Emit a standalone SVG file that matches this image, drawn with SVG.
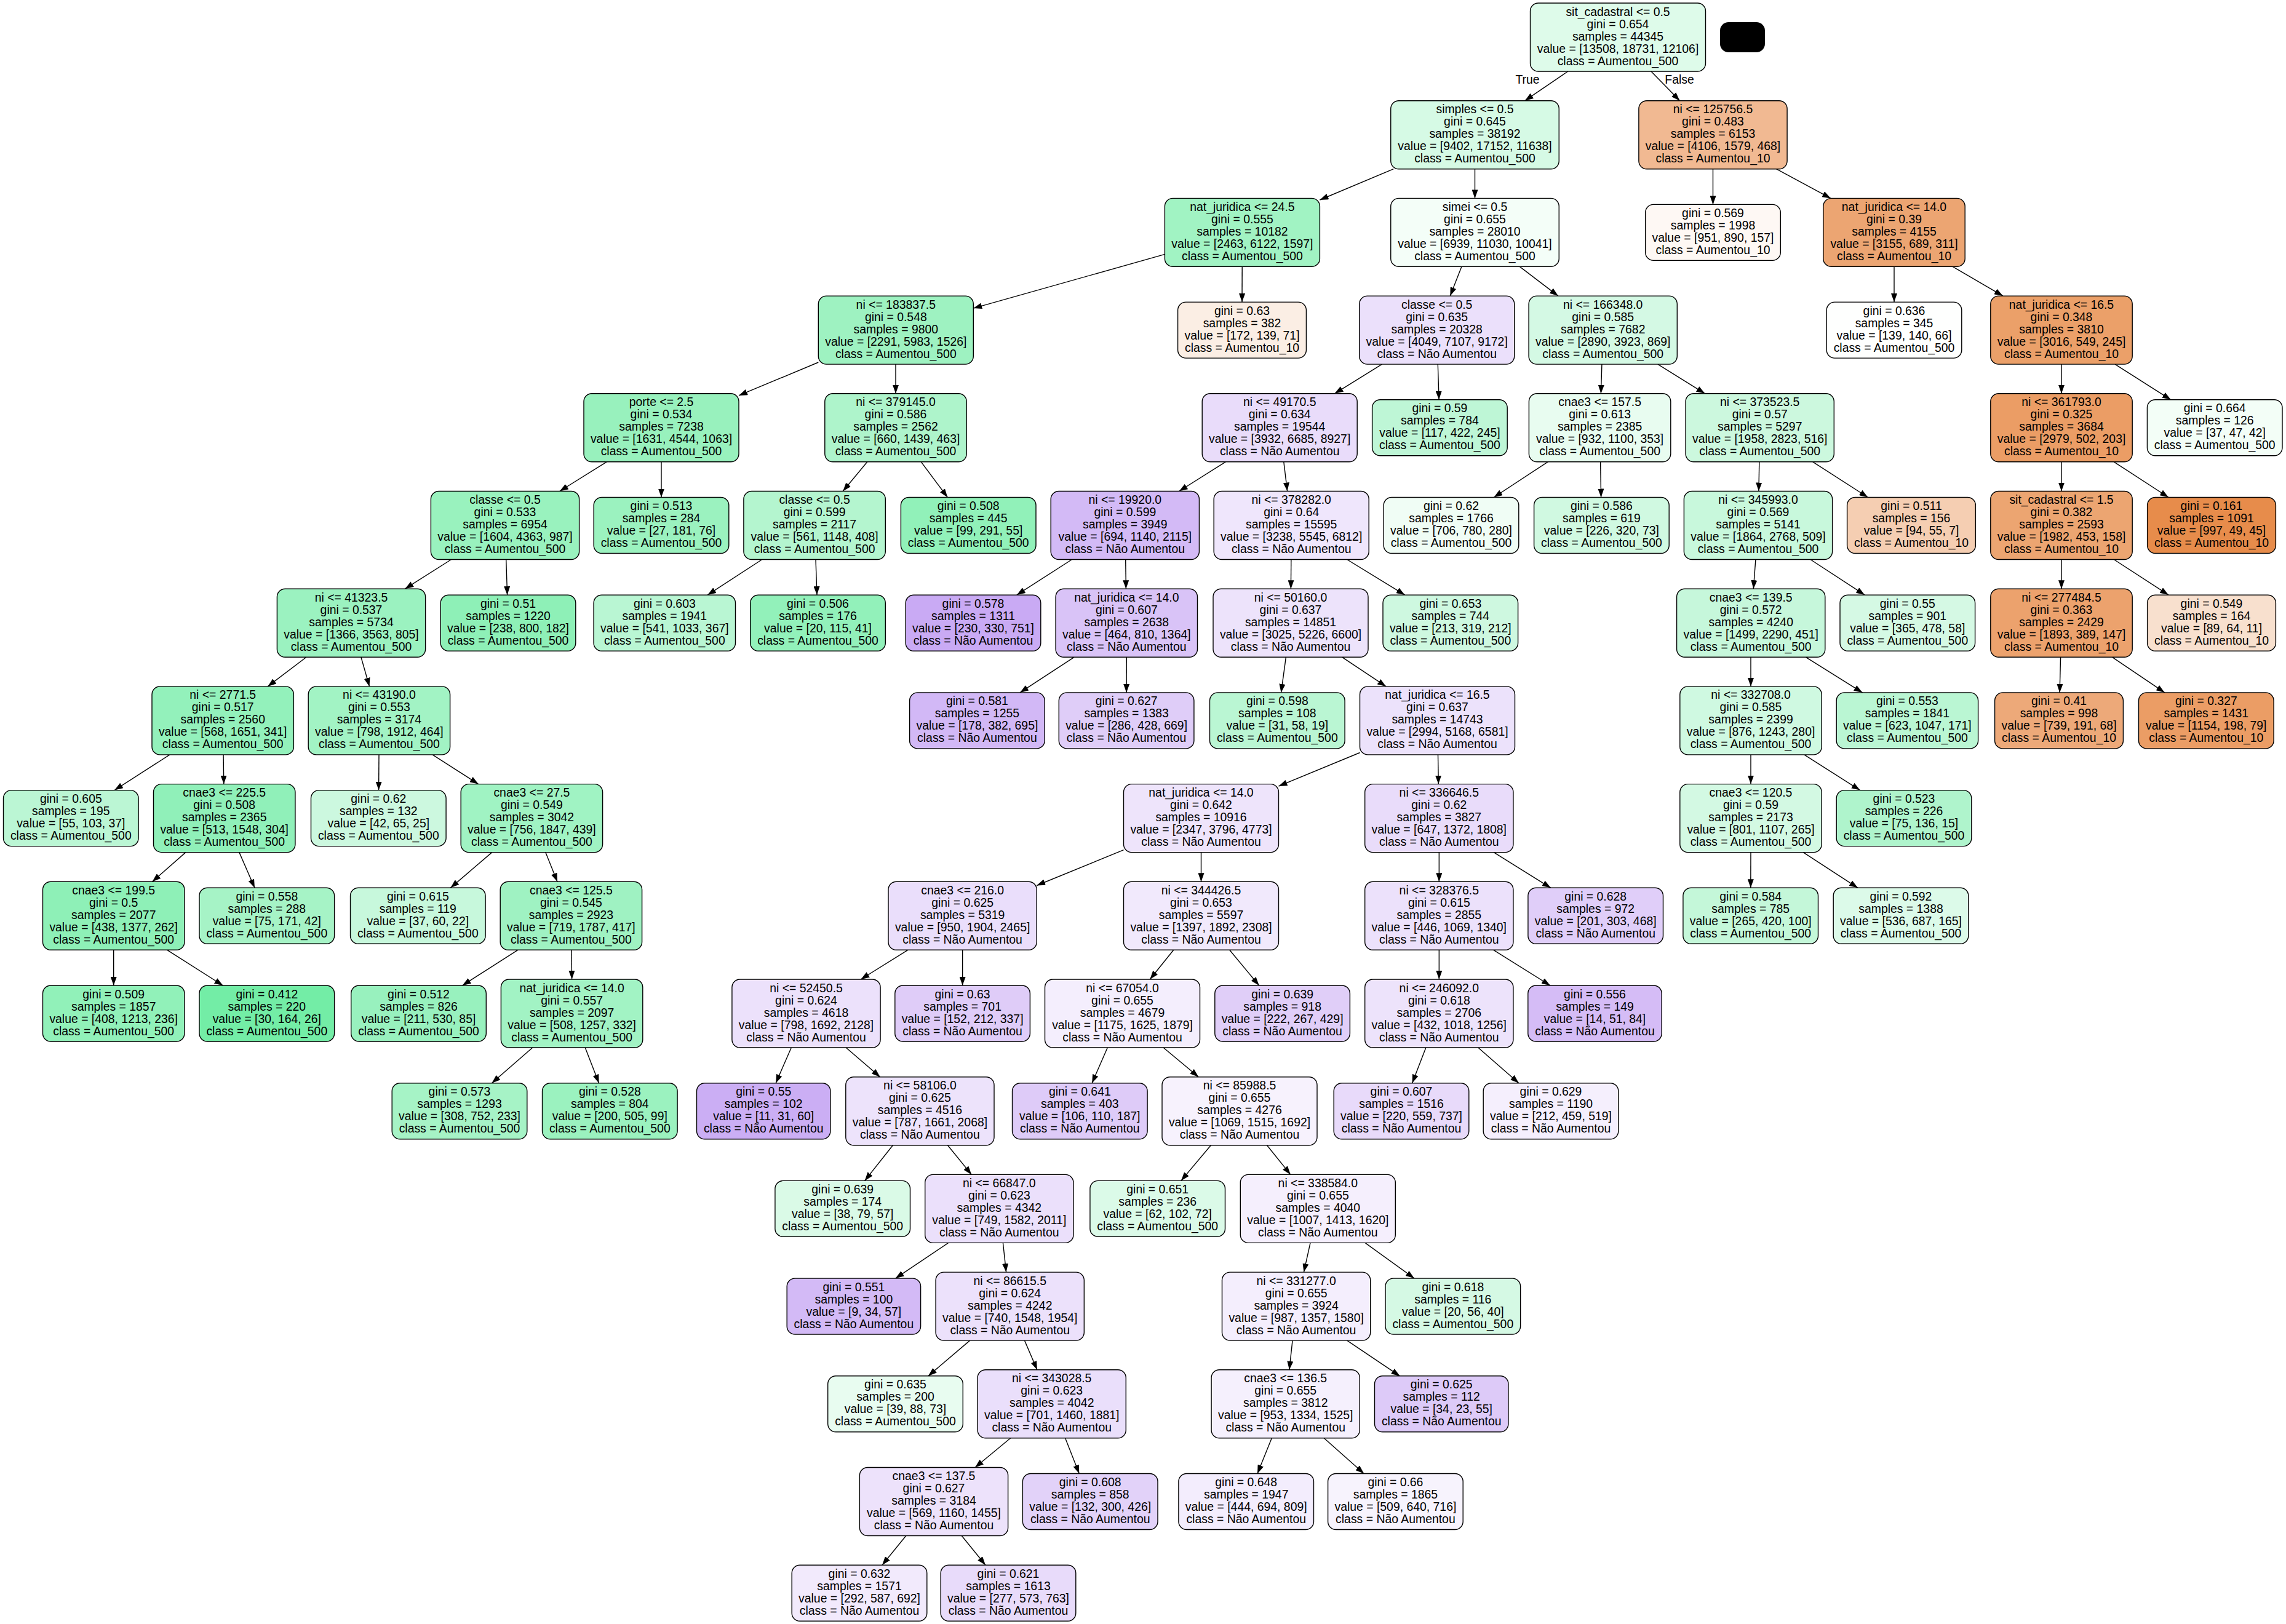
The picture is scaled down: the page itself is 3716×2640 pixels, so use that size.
<svg xmlns="http://www.w3.org/2000/svg" width="3716" height="2640" viewBox="0 0 3716 2640">
<style>
.nd rect{stroke:#000;stroke-width:1.4}
.nd text,.lbl{font-family:"Liberation Sans",Arial,Helvetica,sans-serif;font-size:19.4px;text-anchor:middle;fill:#000}
.ed line{stroke:#000;stroke-width:1.4;fill:none}
</style>
<defs>
<marker id="ah" markerUnits="userSpaceOnUse" markerWidth="14" markerHeight="10" refX="14" refY="5" orient="auto"><path d="M0,0 L14,5 L0,10 z" fill="#000"/></marker>
</defs>
<rect x="0" y="0" width="3716" height="2640" fill="#fff"/>
<g id="connectors" class="ed" marker-end="url(#ah)">
<line x1="2548.7" y1="116" x2="2478.8" y2="163.7" marker-end="url(#ah)"/>
<line x1="2684" y1="116" x2="2730.5" y2="163.7" marker-end="url(#ah)"/>
<line x1="2265.3" y1="274.7" x2="2145.4" y2="325" marker-end="url(#ah)"/>
<line x1="2397.5" y1="274.7" x2="2397.5" y2="322.4" marker-end="url(#ah)"/>
<line x1="2784.5" y1="274.7" x2="2784.5" y2="332.4" marker-end="url(#ah)"/>
<line x1="2887.5" y1="274.7" x2="2976" y2="322.4" marker-end="url(#ah)"/>
<line x1="1893.4" y1="413.4" x2="1582.3" y2="501.1" marker-end="url(#ah)"/>
<line x1="2019.2" y1="433.4" x2="2019" y2="491.1" marker-end="url(#ah)"/>
<line x1="2375.9" y1="433.4" x2="2357.3" y2="481.1" marker-end="url(#ah)"/>
<line x1="2470.3" y1="433.4" x2="2532.9" y2="481.1" marker-end="url(#ah)"/>
<line x1="3079" y1="433.4" x2="3079" y2="491.1" marker-end="url(#ah)"/>
<line x1="3174.1" y1="433.4" x2="3255.9" y2="481.1" marker-end="url(#ah)"/>
<line x1="1330.3" y1="589" x2="1201" y2="642.9" marker-end="url(#ah)"/>
<line x1="1456" y1="592.1" x2="1456" y2="639.8" marker-end="url(#ah)"/>
<line x1="2246.4" y1="592.1" x2="2169.5" y2="639.8" marker-end="url(#ah)"/>
<line x1="2337.3" y1="592.1" x2="2339.1" y2="649.8" marker-end="url(#ah)"/>
<line x1="2603.9" y1="592.1" x2="2602.4" y2="639.8" marker-end="url(#ah)"/>
<line x1="2694.9" y1="592.1" x2="2771.5" y2="639.8" marker-end="url(#ah)"/>
<line x1="3351" y1="592.1" x2="3351" y2="639.8" marker-end="url(#ah)"/>
<line x1="3438.1" y1="592.1" x2="3528.8" y2="649.8" marker-end="url(#ah)"/>
<line x1="986.2" y1="750.8" x2="909.8" y2="798.5" marker-end="url(#ah)"/>
<line x1="1075" y1="750.8" x2="1075" y2="808.5" marker-end="url(#ah)"/>
<line x1="1409.8" y1="750.8" x2="1370.2" y2="798.5" marker-end="url(#ah)"/>
<line x1="1497.3" y1="750.8" x2="1540.3" y2="808.5" marker-end="url(#ah)"/>
<line x1="1992.3" y1="750.8" x2="1916.7" y2="798.5" marker-end="url(#ah)"/>
<line x1="2086.8" y1="750.8" x2="2092.6" y2="798.5" marker-end="url(#ah)"/>
<line x1="2516.1" y1="750.8" x2="2428.3" y2="808.5" marker-end="url(#ah)"/>
<line x1="2601.6" y1="750.8" x2="2602.6" y2="808.5" marker-end="url(#ah)"/>
<line x1="2859.8" y1="750.8" x2="2858.9" y2="798.5" marker-end="url(#ah)"/>
<line x1="2946.8" y1="750.8" x2="3036.4" y2="808.5" marker-end="url(#ah)"/>
<line x1="3351" y1="750.8" x2="3351" y2="798.5" marker-end="url(#ah)"/>
<line x1="3436.3" y1="750.8" x2="3525" y2="808.5" marker-end="url(#ah)"/>
<line x1="733.6" y1="909.5" x2="658.4" y2="957.2" marker-end="url(#ah)"/>
<line x1="822.7" y1="909.5" x2="824.6" y2="967.2" marker-end="url(#ah)"/>
<line x1="1238.8" y1="909.5" x2="1150.2" y2="967.2" marker-end="url(#ah)"/>
<line x1="1326" y1="909.5" x2="1328" y2="967.2" marker-end="url(#ah)"/>
<line x1="1742.5" y1="909.5" x2="1652.8" y2="967.2" marker-end="url(#ah)"/>
<line x1="1829.7" y1="909.5" x2="1830.4" y2="957.2" marker-end="url(#ah)"/>
<line x1="2098.8" y1="909.5" x2="2098.4" y2="957.2" marker-end="url(#ah)"/>
<line x1="2189.6" y1="909.5" x2="2283.7" y2="967.2" marker-end="url(#ah)"/>
<line x1="2853.9" y1="909.5" x2="2850.3" y2="957.2" marker-end="url(#ah)"/>
<line x1="2942.9" y1="909.5" x2="3031.2" y2="967.2" marker-end="url(#ah)"/>
<line x1="3351" y1="909.5" x2="3351" y2="957.2" marker-end="url(#ah)"/>
<line x1="3436.3" y1="909.5" x2="3525" y2="967.2" marker-end="url(#ah)"/>
<line x1="498" y1="1068.2" x2="435.2" y2="1115.9" marker-end="url(#ah)"/>
<line x1="586.9" y1="1068.2" x2="600.5" y2="1115.9" marker-end="url(#ah)"/>
<line x1="1746.4" y1="1068.2" x2="1658" y2="1125.9" marker-end="url(#ah)"/>
<line x1="1831.3" y1="1068.2" x2="1831.1" y2="1125.9" marker-end="url(#ah)"/>
<line x1="2090.4" y1="1068.2" x2="2082.5" y2="1125.9" marker-end="url(#ah)"/>
<line x1="2181.4" y1="1068.2" x2="2253.1" y2="1115.9" marker-end="url(#ah)"/>
<line x1="2846" y1="1068.2" x2="2846" y2="1115.9" marker-end="url(#ah)"/>
<line x1="2935.1" y1="1068.2" x2="3027.5" y2="1125.9" marker-end="url(#ah)"/>
<line x1="3349.6" y1="1068.2" x2="3348.1" y2="1125.9" marker-end="url(#ah)"/>
<line x1="3433.3" y1="1068.2" x2="3518.8" y2="1125.9" marker-end="url(#ah)"/>
<line x1="275.9" y1="1226.9" x2="186.1" y2="1284.6" marker-end="url(#ah)"/>
<line x1="363.1" y1="1226.9" x2="363.8" y2="1274.6" marker-end="url(#ah)"/>
<line x1="616" y1="1226.9" x2="615.6" y2="1284.6" marker-end="url(#ah)"/>
<line x1="703.1" y1="1226.9" x2="777.7" y2="1274.6" marker-end="url(#ah)"/>
<line x1="2210.5" y1="1223.5" x2="2078.5" y2="1278" marker-end="url(#ah)"/>
<line x1="2337.5" y1="1226.9" x2="2338.3" y2="1274.6" marker-end="url(#ah)"/>
<line x1="2846" y1="1226.9" x2="2846" y2="1274.6" marker-end="url(#ah)"/>
<line x1="2932.9" y1="1226.9" x2="3023.6" y2="1284.6" marker-end="url(#ah)"/>
<line x1="301.8" y1="1385.6" x2="247.6" y2="1433.3" marker-end="url(#ah)"/>
<line x1="388.9" y1="1385.6" x2="414" y2="1443.3" marker-end="url(#ah)"/>
<line x1="799.7" y1="1385.6" x2="732.4" y2="1443.3" marker-end="url(#ah)"/>
<line x1="886.8" y1="1385.6" x2="906" y2="1433.3" marker-end="url(#ah)"/>
<line x1="1826.5" y1="1381.6" x2="1685.2" y2="1439.5" marker-end="url(#ah)"/>
<line x1="1952.5" y1="1385.6" x2="1952.5" y2="1433.3" marker-end="url(#ah)"/>
<line x1="2339.3" y1="1385.6" x2="2339.3" y2="1433.3" marker-end="url(#ah)"/>
<line x1="2428.3" y1="1385.6" x2="2520.8" y2="1443.3" marker-end="url(#ah)"/>
<line x1="2846" y1="1385.6" x2="2845.8" y2="1443.3" marker-end="url(#ah)"/>
<line x1="2931.3" y1="1385.6" x2="3020" y2="1443.3" marker-end="url(#ah)"/>
<line x1="184.7" y1="1544.3" x2="184.7" y2="1602" marker-end="url(#ah)"/>
<line x1="271.8" y1="1544.3" x2="362.4" y2="1602" marker-end="url(#ah)"/>
<line x1="841.7" y1="1544.3" x2="751.6" y2="1602" marker-end="url(#ah)"/>
<line x1="929" y1="1544.3" x2="929.6" y2="1592" marker-end="url(#ah)"/>
<line x1="1475.7" y1="1544.3" x2="1399.4" y2="1592" marker-end="url(#ah)"/>
<line x1="1564.6" y1="1544.3" x2="1564.6" y2="1602" marker-end="url(#ah)"/>
<line x1="1907.7" y1="1544.3" x2="1869.3" y2="1592" marker-end="url(#ah)"/>
<line x1="1998.7" y1="1544.3" x2="2046.7" y2="1602" marker-end="url(#ah)"/>
<line x1="2339.3" y1="1544.3" x2="2339.3" y2="1592" marker-end="url(#ah)"/>
<line x1="2427.8" y1="1544.3" x2="2519.9" y2="1602" marker-end="url(#ah)"/>
<line x1="865.7" y1="1703" x2="799.4" y2="1760.7" marker-end="url(#ah)"/>
<line x1="951.2" y1="1703" x2="973.6" y2="1760.7" marker-end="url(#ah)"/>
<line x1="1286.3" y1="1703" x2="1261.1" y2="1760.7" marker-end="url(#ah)"/>
<line x1="1375.2" y1="1703" x2="1430.7" y2="1750.7" marker-end="url(#ah)"/>
<line x1="1800.3" y1="1703" x2="1775.1" y2="1760.7" marker-end="url(#ah)"/>
<line x1="1891.1" y1="1703" x2="1948.4" y2="1750.7" marker-end="url(#ah)"/>
<line x1="2317.9" y1="1703" x2="2295.6" y2="1760.7" marker-end="url(#ah)"/>
<line x1="2402.8" y1="1703" x2="2468.9" y2="1760.7" marker-end="url(#ah)"/>
<line x1="1451.4" y1="1861.7" x2="1405.7" y2="1919.4" marker-end="url(#ah)"/>
<line x1="1540.5" y1="1861.7" x2="1579.2" y2="1909.4" marker-end="url(#ah)"/>
<line x1="1968.4" y1="1861.7" x2="1919.9" y2="1919.4" marker-end="url(#ah)"/>
<line x1="2059.5" y1="1861.7" x2="2097.8" y2="1909.4" marker-end="url(#ah)"/>
<line x1="1541.6" y1="2020.4" x2="1455.7" y2="2078.1" marker-end="url(#ah)"/>
<line x1="1630.4" y1="2020.4" x2="1635.6" y2="2068.1" marker-end="url(#ah)"/>
<line x1="2130" y1="2020.4" x2="2119.4" y2="2068.1" marker-end="url(#ah)"/>
<line x1="2219.1" y1="2020.4" x2="2298.9" y2="2078.1" marker-end="url(#ah)"/>
<line x1="1576.6" y1="2179.1" x2="1508.9" y2="2236.8" marker-end="url(#ah)"/>
<line x1="1665.5" y1="2179.1" x2="1685.9" y2="2226.8" marker-end="url(#ah)"/>
<line x1="2101" y1="2179.1" x2="2095.8" y2="2226.8" marker-end="url(#ah)"/>
<line x1="2189.7" y1="2179.1" x2="2275.5" y2="2236.8" marker-end="url(#ah)"/>
<line x1="1642.7" y1="2337.8" x2="1585" y2="2385.5" marker-end="url(#ah)"/>
<line x1="1731.6" y1="2337.8" x2="1754.3" y2="2395.5" marker-end="url(#ah)"/>
<line x1="2067.3" y1="2337.8" x2="2044" y2="2395.5" marker-end="url(#ah)"/>
<line x1="2152.2" y1="2337.8" x2="2217.2" y2="2395.5" marker-end="url(#ah)"/>
<line x1="1472.8" y1="2496.5" x2="1434" y2="2544.2" marker-end="url(#ah)"/>
<line x1="1563.2" y1="2496.5" x2="1602" y2="2544.2" marker-end="url(#ah)"/>
<text class="lbl" x="2483" y="136">True</text>
<text class="lbl" x="2730" y="136">False</text>
</g>
<g id="legend"><rect x="2796" y="36" width="73" height="49" rx="14" fill="#000"/></g>
<g id="n0" class="nd" transform="translate(2630,60.5)"><rect x="-142.5" y="-55.5" width="285" height="111" rx="13" fill="#defbea"/><text><tspan x="0" y="-35">sit_cadastral &lt;= 0.5</tspan><tspan x="0" y="-15">gini = 0.654</tspan><tspan x="0" y="5">samples = 44345</tspan><tspan x="0" y="25">value = [13508, 18731, 12106]</tspan><tspan x="0" y="45">class = Aumentou_500</tspan></text></g>
<g id="n1" class="nd" transform="translate(2397.5,219.2)"><rect x="-136.75" y="-55.5" width="273.5" height="111" rx="13" fill="#d6fae5"/><text><tspan x="0" y="-35">simples &lt;= 0.5</tspan><tspan x="0" y="-15">gini = 0.645</tspan><tspan x="0" y="5">samples = 38192</tspan><tspan x="0" y="25">value = [9402, 17152, 11638]</tspan><tspan x="0" y="45">class = Aumentou_500</tspan></text></g>
<g id="n2" class="nd" transform="translate(2784.5,219.2)"><rect x="-120.6" y="-55.5" width="241.2" height="111" rx="13" fill="#f1b992"/><text><tspan x="0" y="-35">ni &lt;= 125756.5</tspan><tspan x="0" y="-15">gini = 0.483</tspan><tspan x="0" y="5">samples = 6153</tspan><tspan x="0" y="25">value = [4106, 1579, 468]</tspan><tspan x="0" y="45">class = Aumentou_10</tspan></text></g>
<g id="n3" class="nd" transform="translate(2019.4,377.9)"><rect x="-126" y="-55.5" width="252" height="111" rx="13" fill="#a1f3c3"/><text><tspan x="0" y="-35">nat_juridica &lt;= 24.5</tspan><tspan x="0" y="-15">gini = 0.555</tspan><tspan x="0" y="5">samples = 10182</tspan><tspan x="0" y="25">value = [2463, 6122, 1597]</tspan><tspan x="0" y="45">class = Aumentou_500</tspan></text></g>
<g id="n4" class="nd" transform="translate(2397.5,377.9)"><rect x="-136.75" y="-55.5" width="273.5" height="111" rx="13" fill="#f4fef8"/><text><tspan x="0" y="-35">simei &lt;= 0.5</tspan><tspan x="0" y="-15">gini = 0.655</tspan><tspan x="0" y="5">samples = 28010</tspan><tspan x="0" y="25">value = [6939, 11030, 10041]</tspan><tspan x="0" y="45">class = Aumentou_500</tspan></text></g>
<g id="n5" class="nd" transform="translate(2784.5,377.9)"><rect x="-109.8" y="-45.5" width="219.6" height="91" rx="13" fill="#fef8f4"/><text><tspan x="0" y="-25">gini = 0.569</tspan><tspan x="0" y="-5">samples = 1998</tspan><tspan x="0" y="15">value = [951, 890, 157]</tspan><tspan x="0" y="35">class = Aumentou_10</tspan></text></g>
<g id="n6" class="nd" transform="translate(3079,377.9)"><rect x="-115.2" y="-55.5" width="230.4" height="111" rx="13" fill="#eca572"/><text><tspan x="0" y="-35">nat_juridica &lt;= 14.0</tspan><tspan x="0" y="-15">gini = 0.39</tspan><tspan x="0" y="5">samples = 4155</tspan><tspan x="0" y="25">value = [3155, 689, 311]</tspan><tspan x="0" y="45">class = Aumentou_10</tspan></text></g>
<g id="n7" class="nd" transform="translate(1456.3,536.6)"><rect x="-126" y="-55.5" width="252" height="111" rx="13" fill="#9ef2c1"/><text><tspan x="0" y="-35">ni &lt;= 183837.5</tspan><tspan x="0" y="-15">gini = 0.548</tspan><tspan x="0" y="5">samples = 9800</tspan><tspan x="0" y="25">value = [2291, 5983, 1526]</tspan><tspan x="0" y="45">class = Aumentou_500</tspan></text></g>
<g id="n8" class="nd" transform="translate(2019,536.6)"><rect x="-104.4" y="-45.5" width="208.8" height="91" rx="13" fill="#fbeee4"/><text><tspan x="0" y="-25">gini = 0.63</tspan><tspan x="0" y="-5">samples = 382</tspan><tspan x="0" y="15">value = [172, 139, 71]</tspan><tspan x="0" y="35">class = Aumentou_10</tspan></text></g>
<g id="n9" class="nd" transform="translate(2335.7,536.6)"><rect x="-126" y="-55.5" width="252" height="111" rx="13" fill="#ebe0fb"/><text><tspan x="0" y="-35">classe &lt;= 0.5</tspan><tspan x="0" y="-15">gini = 0.635</tspan><tspan x="0" y="5">samples = 20328</tspan><tspan x="0" y="25">value = [4049, 7107, 9172]</tspan><tspan x="0" y="45">class = Não Aumentou</tspan></text></g>
<g id="n10" class="nd" transform="translate(2605.7,536.6)"><rect x="-120.6" y="-55.5" width="241.2" height="111" rx="13" fill="#d4f9e4"/><text><tspan x="0" y="-35">ni &lt;= 166348.0</tspan><tspan x="0" y="-15">gini = 0.585</tspan><tspan x="0" y="5">samples = 7682</tspan><tspan x="0" y="25">value = [2890, 3923, 869]</tspan><tspan x="0" y="45">class = Aumentou_500</tspan></text></g>
<g id="n11" class="nd" transform="translate(3079,536.6)"><rect x="-109.8" y="-45.5" width="219.6" height="91" rx="13" fill="#fefffe"/><text><tspan x="0" y="-25">gini = 0.636</tspan><tspan x="0" y="-5">samples = 345</tspan><tspan x="0" y="15">value = [139, 140, 66]</tspan><tspan x="0" y="35">class = Aumentou_500</tspan></text></g>
<g id="n12" class="nd" transform="translate(3351,536.6)"><rect x="-115.2" y="-55.5" width="230.4" height="111" rx="13" fill="#eba069"/><text><tspan x="0" y="-35">nat_juridica &lt;= 16.5</tspan><tspan x="0" y="-15">gini = 0.348</tspan><tspan x="0" y="5">samples = 3810</tspan><tspan x="0" y="25">value = [3016, 549, 245]</tspan><tspan x="0" y="45">class = Aumentou_10</tspan></text></g>
<g id="n13" class="nd" transform="translate(1075,695.3)"><rect x="-126" y="-55.5" width="252" height="111" rx="13" fill="#98f1bd"/><text><tspan x="0" y="-35">porte &lt;= 2.5</tspan><tspan x="0" y="-15">gini = 0.534</tspan><tspan x="0" y="5">samples = 7238</tspan><tspan x="0" y="25">value = [1631, 4544, 1063]</tspan><tspan x="0" y="45">class = Aumentou_500</tspan></text></g>
<g id="n14" class="nd" transform="translate(1456,695.3)"><rect x="-115.2" y="-55.5" width="230.4" height="111" rx="13" fill="#aef4cb"/><text><tspan x="0" y="-35">ni &lt;= 379145.0</tspan><tspan x="0" y="-15">gini = 0.586</tspan><tspan x="0" y="5">samples = 2562</tspan><tspan x="0" y="25">value = [660, 1439, 463]</tspan><tspan x="0" y="45">class = Aumentou_500</tspan></text></g>
<g id="n15" class="nd" transform="translate(2080.2,695.3)"><rect x="-126" y="-55.5" width="252" height="111" rx="13" fill="#e9dcfa"/><text><tspan x="0" y="-35">ni &lt;= 49170.5</tspan><tspan x="0" y="-15">gini = 0.634</tspan><tspan x="0" y="5">samples = 19544</tspan><tspan x="0" y="25">value = [3932, 6685, 8927]</tspan><tspan x="0" y="45">class = Não Aumentou</tspan></text></g>
<g id="n16" class="nd" transform="translate(2340.4,695.3)"><rect x="-109.8" y="-45.5" width="219.6" height="91" rx="13" fill="#bef6d6"/><text><tspan x="0" y="-25">gini = 0.59</tspan><tspan x="0" y="-5">samples = 784</tspan><tspan x="0" y="15">value = [117, 422, 245]</tspan><tspan x="0" y="35">class = Aumentou_500</tspan></text></g>
<g id="n17" class="nd" transform="translate(2600.6,695.3)"><rect x="-115.2" y="-55.5" width="230.4" height="111" rx="13" fill="#e8fcf0"/><text><tspan x="0" y="-35">cnae3 &lt;= 157.5</tspan><tspan x="0" y="-15">gini = 0.613</tspan><tspan x="0" y="5">samples = 2385</tspan><tspan x="0" y="25">value = [932, 1100, 353]</tspan><tspan x="0" y="45">class = Aumentou_500</tspan></text></g>
<g id="n18" class="nd" transform="translate(2860.7,695.3)"><rect x="-120.6" y="-55.5" width="241.2" height="111" rx="13" fill="#ccf8de"/><text><tspan x="0" y="-35">ni &lt;= 373523.5</tspan><tspan x="0" y="-15">gini = 0.57</tspan><tspan x="0" y="5">samples = 5297</tspan><tspan x="0" y="25">value = [1958, 2823, 516]</tspan><tspan x="0" y="45">class = Aumentou_500</tspan></text></g>
<g id="n19" class="nd" transform="translate(3351,695.3)"><rect x="-115.2" y="-55.5" width="230.4" height="111" rx="13" fill="#eb9d65"/><text><tspan x="0" y="-35">ni &lt;= 361793.0</tspan><tspan x="0" y="-15">gini = 0.325</tspan><tspan x="0" y="5">samples = 3684</tspan><tspan x="0" y="25">value = [2979, 502, 203]</tspan><tspan x="0" y="45">class = Aumentou_10</tspan></text></g>
<g id="n20" class="nd" transform="translate(3600.2,695.3)"><rect x="-109.8" y="-45.5" width="219.6" height="91" rx="13" fill="#f3fef7"/><text><tspan x="0" y="-25">gini = 0.664</tspan><tspan x="0" y="-5">samples = 126</tspan><tspan x="0" y="15">value = [37, 47, 42]</tspan><tspan x="0" y="35">class = Aumentou_500</tspan></text></g>
<g id="n21" class="nd" transform="translate(821,854)"><rect x="-120.6" y="-55.5" width="241.2" height="111" rx="13" fill="#99f2be"/><text><tspan x="0" y="-35">classe &lt;= 0.5</tspan><tspan x="0" y="-15">gini = 0.533</tspan><tspan x="0" y="5">samples = 6954</tspan><tspan x="0" y="25">value = [1604, 4363, 987]</tspan><tspan x="0" y="45">class = Aumentou_500</tspan></text></g>
<g id="n22" class="nd" transform="translate(1075,854)"><rect x="-109.8" y="-45.5" width="219.6" height="91" rx="13" fill="#9bf2bf"/><text><tspan x="0" y="-25">gini = 0.513</tspan><tspan x="0" y="-5">samples = 284</tspan><tspan x="0" y="15">value = [27, 181, 76]</tspan><tspan x="0" y="35">class = Aumentou_500</tspan></text></g>
<g id="n23" class="nd" transform="translate(1324.1,854)"><rect x="-115.2" y="-55.5" width="230.4" height="111" rx="13" fill="#b4f5cf"/><text><tspan x="0" y="-35">classe &lt;= 0.5</tspan><tspan x="0" y="-15">gini = 0.599</tspan><tspan x="0" y="5">samples = 2117</tspan><tspan x="0" y="25">value = [561, 1148, 408]</tspan><tspan x="0" y="45">class = Aumentou_500</tspan></text></g>
<g id="n24" class="nd" transform="translate(1574.2,854)"><rect x="-109.8" y="-45.5" width="219.6" height="91" rx="13" fill="#91f1b9"/><text><tspan x="0" y="-25">gini = 0.508</tspan><tspan x="0" y="-5">samples = 445</tspan><tspan x="0" y="15">value = [99, 291, 55]</tspan><tspan x="0" y="35">class = Aumentou_500</tspan></text></g>
<g id="n25" class="nd" transform="translate(1828.8,854)"><rect x="-120.6" y="-55.5" width="241.2" height="111" rx="13" fill="#d3baf6"/><text><tspan x="0" y="-35">ni &lt;= 19920.0</tspan><tspan x="0" y="-15">gini = 0.599</tspan><tspan x="0" y="5">samples = 3949</tspan><tspan x="0" y="25">value = [694, 1140, 2115]</tspan><tspan x="0" y="45">class = Não Aumentou</tspan></text></g>
<g id="n26" class="nd" transform="translate(2099.2,854)"><rect x="-126" y="-55.5" width="252" height="111" rx="13" fill="#efe6fc"/><text><tspan x="0" y="-35">ni &lt;= 378282.0</tspan><tspan x="0" y="-15">gini = 0.64</tspan><tspan x="0" y="5">samples = 15595</tspan><tspan x="0" y="25">value = [3238, 5545, 6812]</tspan><tspan x="0" y="45">class = Não Aumentou</tspan></text></g>
<g id="n27" class="nd" transform="translate(2359,854)"><rect x="-109.8" y="-45.5" width="219.6" height="91" rx="13" fill="#f0fdf5"/><text><tspan x="0" y="-25">gini = 0.62</tspan><tspan x="0" y="-5">samples = 1766</tspan><tspan x="0" y="15">value = [706, 780, 280]</tspan><tspan x="0" y="35">class = Aumentou_500</tspan></text></g>
<g id="n28" class="nd" transform="translate(2603.4,854)"><rect x="-109.8" y="-45.5" width="219.6" height="91" rx="13" fill="#d0f9e1"/><text><tspan x="0" y="-25">gini = 0.586</tspan><tspan x="0" y="-5">samples = 619</tspan><tspan x="0" y="15">value = [226, 320, 73]</tspan><tspan x="0" y="35">class = Aumentou_500</tspan></text></g>
<g id="n29" class="nd" transform="translate(2858,854)"><rect x="-120.6" y="-55.5" width="241.2" height="111" rx="13" fill="#c8f8dc"/><text><tspan x="0" y="-35">ni &lt;= 345993.0</tspan><tspan x="0" y="-15">gini = 0.569</tspan><tspan x="0" y="5">samples = 5141</tspan><tspan x="0" y="25">value = [1864, 2768, 509]</tspan><tspan x="0" y="45">class = Aumentou_500</tspan></text></g>
<g id="n30" class="nd" transform="translate(3107,854)"><rect x="-104.4" y="-45.5" width="208.8" height="91" rx="13" fill="#f5ceb2"/><text><tspan x="0" y="-25">gini = 0.511</tspan><tspan x="0" y="-5">samples = 156</tspan><tspan x="0" y="15">value = [94, 55, 7]</tspan><tspan x="0" y="35">class = Aumentou_10</tspan></text></g>
<g id="n31" class="nd" transform="translate(3351,854)"><rect x="-115.2" y="-55.5" width="230.4" height="111" rx="13" fill="#eca571"/><text><tspan x="0" y="-35">sit_cadastral &lt;= 1.5</tspan><tspan x="0" y="-15">gini = 0.382</tspan><tspan x="0" y="5">samples = 2593</tspan><tspan x="0" y="25">value = [1982, 453, 158]</tspan><tspan x="0" y="45">class = Aumentou_10</tspan></text></g>
<g id="n32" class="nd" transform="translate(3595,854)"><rect x="-104.4" y="-45.5" width="208.8" height="91" rx="13" fill="#e78c4b"/><text><tspan x="0" y="-25">gini = 0.161</tspan><tspan x="0" y="-5">samples = 1091</tspan><tspan x="0" y="15">value = [997, 49, 45]</tspan><tspan x="0" y="35">class = Aumentou_10</tspan></text></g>
<g id="n33" class="nd" transform="translate(571,1012.7)"><rect x="-120.6" y="-55.5" width="241.2" height="111" rx="13" fill="#9bf2c0"/><text><tspan x="0" y="-35">ni &lt;= 41323.5</tspan><tspan x="0" y="-15">gini = 0.537</tspan><tspan x="0" y="5">samples = 5734</tspan><tspan x="0" y="25">value = [1366, 3563, 805]</tspan><tspan x="0" y="45">class = Aumentou_500</tspan></text></g>
<g id="n34" class="nd" transform="translate(826,1012.7)"><rect x="-109.8" y="-45.5" width="219.6" height="91" rx="13" fill="#8ef0b7"/><text><tspan x="0" y="-25">gini = 0.51</tspan><tspan x="0" y="-5">samples = 1220</tspan><tspan x="0" y="15">value = [238, 800, 182]</tspan><tspan x="0" y="35">class = Aumentou_500</tspan></text></g>
<g id="n35" class="nd" transform="translate(1080.3,1012.7)"><rect x="-115.2" y="-45.5" width="230.4" height="91" rx="13" fill="#b9f6d3"/><text><tspan x="0" y="-25">gini = 0.603</tspan><tspan x="0" y="-5">samples = 1941</tspan><tspan x="0" y="15">value = [541, 1033, 367]</tspan><tspan x="0" y="35">class = Aumentou_500</tspan></text></g>
<g id="n36" class="nd" transform="translate(1329.5,1012.7)"><rect x="-109.8" y="-45.5" width="219.6" height="91" rx="13" fill="#92f1ba"/><text><tspan x="0" y="-25">gini = 0.506</tspan><tspan x="0" y="-5">samples = 176</tspan><tspan x="0" y="15">value = [20, 115, 41]</tspan><tspan x="0" y="35">class = Aumentou_500</tspan></text></g>
<g id="n37" class="nd" transform="translate(1582,1012.7)"><rect x="-109.8" y="-45.5" width="219.6" height="91" rx="13" fill="#c9aaf4"/><text><tspan x="0" y="-25">gini = 0.578</tspan><tspan x="0" y="-5">samples = 1311</tspan><tspan x="0" y="15">value = [230, 330, 751]</tspan><tspan x="0" y="35">class = Não Aumentou</tspan></text></g>
<g id="n38" class="nd" transform="translate(1831.3,1012.7)"><rect x="-115.2" y="-55.5" width="230.4" height="111" rx="13" fill="#d9c3f7"/><text><tspan x="0" y="-35">nat_juridica &lt;= 14.0</tspan><tspan x="0" y="-15">gini = 0.607</tspan><tspan x="0" y="5">samples = 2638</tspan><tspan x="0" y="25">value = [464, 810, 1364]</tspan><tspan x="0" y="45">class = Não Aumentou</tspan></text></g>
<g id="n39" class="nd" transform="translate(2098,1012.7)"><rect x="-126" y="-55.5" width="252" height="111" rx="13" fill="#ede3fb"/><text><tspan x="0" y="-35">ni &lt;= 50160.0</tspan><tspan x="0" y="-15">gini = 0.637</tspan><tspan x="0" y="5">samples = 14851</tspan><tspan x="0" y="25">value = [3025, 5226, 6600]</tspan><tspan x="0" y="45">class = Não Aumentou</tspan></text></g>
<g id="n40" class="nd" transform="translate(2357.8,1012.7)"><rect x="-109.8" y="-45.5" width="219.6" height="91" rx="13" fill="#cef8e0"/><text><tspan x="0" y="-25">gini = 0.653</tspan><tspan x="0" y="-5">samples = 744</tspan><tspan x="0" y="15">value = [213, 319, 212]</tspan><tspan x="0" y="35">class = Aumentou_500</tspan></text></g>
<g id="n41" class="nd" transform="translate(2846.2,1012.7)"><rect x="-120.6" y="-55.5" width="241.2" height="111" rx="13" fill="#c6f7db"/><text><tspan x="0" y="-35">cnae3 &lt;= 139.5</tspan><tspan x="0" y="-15">gini = 0.572</tspan><tspan x="0" y="5">samples = 4240</tspan><tspan x="0" y="25">value = [1499, 2290, 451]</tspan><tspan x="0" y="45">class = Aumentou_500</tspan></text></g>
<g id="n42" class="nd" transform="translate(3100.8,1012.7)"><rect x="-109.8" y="-45.5" width="219.6" height="91" rx="13" fill="#d5f9e4"/><text><tspan x="0" y="-25">gini = 0.55</tspan><tspan x="0" y="-5">samples = 901</tspan><tspan x="0" y="15">value = [365, 478, 58]</tspan><tspan x="0" y="35">class = Aumentou_500</tspan></text></g>
<g id="n43" class="nd" transform="translate(3351,1012.7)"><rect x="-115.2" y="-55.5" width="230.4" height="111" rx="13" fill="#eca26d"/><text><tspan x="0" y="-35">ni &lt;= 277484.5</tspan><tspan x="0" y="-15">gini = 0.363</tspan><tspan x="0" y="5">samples = 2429</tspan><tspan x="0" y="25">value = [1893, 389, 147]</tspan><tspan x="0" y="45">class = Aumentou_10</tspan></text></g>
<g id="n44" class="nd" transform="translate(3595,1012.7)"><rect x="-104.4" y="-45.5" width="208.8" height="91" rx="13" fill="#f8e0ce"/><text><tspan x="0" y="-25">gini = 0.549</tspan><tspan x="0" y="-5">samples = 164</tspan><tspan x="0" y="15">value = [89, 64, 11]</tspan><tspan x="0" y="35">class = Aumentou_10</tspan></text></g>
<g id="n45" class="nd" transform="translate(362.2,1171.4)"><rect x="-115.2" y="-55.5" width="230.4" height="111" rx="13" fill="#93f1bb"/><text><tspan x="0" y="-35">ni &lt;= 2771.5</tspan><tspan x="0" y="-15">gini = 0.517</tspan><tspan x="0" y="5">samples = 2560</tspan><tspan x="0" y="25">value = [568, 1651, 341]</tspan><tspan x="0" y="45">class = Aumentou_500</tspan></text></g>
<g id="n46" class="nd" transform="translate(616.4,1171.4)"><rect x="-115.2" y="-55.5" width="230.4" height="111" rx="13" fill="#a2f3c4"/><text><tspan x="0" y="-35">ni &lt;= 43190.0</tspan><tspan x="0" y="-15">gini = 0.553</tspan><tspan x="0" y="5">samples = 3174</tspan><tspan x="0" y="25">value = [798, 1912, 464]</tspan><tspan x="0" y="45">class = Aumentou_500</tspan></text></g>
<g id="n47" class="nd" transform="translate(1588.4,1171.4)"><rect x="-109.8" y="-45.5" width="219.6" height="91" rx="13" fill="#d2b8f6"/><text><tspan x="0" y="-25">gini = 0.581</tspan><tspan x="0" y="-5">samples = 1255</tspan><tspan x="0" y="15">value = [178, 382, 695]</tspan><tspan x="0" y="35">class = Não Aumentou</tspan></text></g>
<g id="n48" class="nd" transform="translate(1831.1,1171.4)"><rect x="-109.8" y="-45.5" width="219.6" height="91" rx="13" fill="#dfcdf8"/><text><tspan x="0" y="-25">gini = 0.627</tspan><tspan x="0" y="-5">samples = 1383</tspan><tspan x="0" y="15">value = [286, 428, 669]</tspan><tspan x="0" y="35">class = Não Aumentou</tspan></text></g>
<g id="n49" class="nd" transform="translate(2076.3,1171.4)"><rect x="-109.8" y="-45.5" width="219.6" height="91" rx="13" fill="#baf6d3"/><text><tspan x="0" y="-25">gini = 0.598</tspan><tspan x="0" y="-5">samples = 108</tspan><tspan x="0" y="15">value = [31, 58, 19]</tspan><tspan x="0" y="35">class = Aumentou_500</tspan></text></g>
<g id="n50" class="nd" transform="translate(2336.5,1171.4)"><rect x="-126" y="-55.5" width="252" height="111" rx="13" fill="#ece2fb"/><text><tspan x="0" y="-35">nat_juridica &lt;= 16.5</tspan><tspan x="0" y="-15">gini = 0.637</tspan><tspan x="0" y="5">samples = 14743</tspan><tspan x="0" y="25">value = [2994, 5168, 6581]</tspan><tspan x="0" y="45">class = Não Aumentou</tspan></text></g>
<g id="n51" class="nd" transform="translate(2846,1171.4)"><rect x="-115.2" y="-55.5" width="230.4" height="111" rx="13" fill="#cff9e1"/><text><tspan x="0" y="-35">ni &lt;= 332708.0</tspan><tspan x="0" y="-15">gini = 0.585</tspan><tspan x="0" y="5">samples = 2399</tspan><tspan x="0" y="25">value = [876, 1243, 280]</tspan><tspan x="0" y="45">class = Aumentou_500</tspan></text></g>
<g id="n52" class="nd" transform="translate(3100.4,1171.4)"><rect x="-115.2" y="-45.5" width="230.4" height="91" rx="13" fill="#baf6d3"/><text><tspan x="0" y="-25">gini = 0.553</tspan><tspan x="0" y="-5">samples = 1841</tspan><tspan x="0" y="15">value = [623, 1047, 171]</tspan><tspan x="0" y="35">class = Aumentou_500</tspan></text></g>
<g id="n53" class="nd" transform="translate(3347,1171.4)"><rect x="-104.4" y="-45.5" width="208.8" height="91" rx="13" fill="#eda979"/><text><tspan x="0" y="-25">gini = 0.41</tspan><tspan x="0" y="-5">samples = 998</tspan><tspan x="0" y="15">value = [739, 191, 68]</tspan><tspan x="0" y="35">class = Aumentou_10</tspan></text></g>
<g id="n54" class="nd" transform="translate(3586.3,1171.4)"><rect x="-109.8" y="-45.5" width="219.6" height="91" rx="13" fill="#eb9d65"/><text><tspan x="0" y="-25">gini = 0.327</tspan><tspan x="0" y="-5">samples = 1431</tspan><tspan x="0" y="15">value = [1154, 198, 79]</tspan><tspan x="0" y="35">class = Aumentou_10</tspan></text></g>
<g id="n55" class="nd" transform="translate(115.3,1330.1)"><rect x="-109.8" y="-45.5" width="219.6" height="91" rx="13" fill="#bbf6d4"/><text><tspan x="0" y="-25">gini = 0.605</tspan><tspan x="0" y="-5">samples = 195</tspan><tspan x="0" y="15">value = [55, 103, 37]</tspan><tspan x="0" y="35">class = Aumentou_500</tspan></text></g>
<g id="n56" class="nd" transform="translate(364.7,1330.1)"><rect x="-115.2" y="-55.5" width="230.4" height="111" rx="13" fill="#90f0b9"/><text><tspan x="0" y="-35">cnae3 &lt;= 225.5</tspan><tspan x="0" y="-15">gini = 0.508</tspan><tspan x="0" y="5">samples = 2365</tspan><tspan x="0" y="25">value = [513, 1548, 304]</tspan><tspan x="0" y="45">class = Aumentou_500</tspan></text></g>
<g id="n57" class="nd" transform="translate(615.3,1330.1)"><rect x="-109.8" y="-45.5" width="219.6" height="91" rx="13" fill="#ccf8df"/><text><tspan x="0" y="-25">gini = 0.62</tspan><tspan x="0" y="-5">samples = 132</tspan><tspan x="0" y="15">value = [42, 65, 25]</tspan><tspan x="0" y="35">class = Aumentou_500</tspan></text></g>
<g id="n58" class="nd" transform="translate(864.4,1330.1)"><rect x="-115.2" y="-55.5" width="230.4" height="111" rx="13" fill="#a0f3c3"/><text><tspan x="0" y="-35">cnae3 &lt;= 27.5</tspan><tspan x="0" y="-15">gini = 0.549</tspan><tspan x="0" y="5">samples = 3042</tspan><tspan x="0" y="25">value = [756, 1847, 439]</tspan><tspan x="0" y="45">class = Aumentou_500</tspan></text></g>
<g id="n59" class="nd" transform="translate(1952.5,1330.1)"><rect x="-126" y="-55.5" width="252" height="111" rx="13" fill="#eee4fb"/><text><tspan x="0" y="-35">nat_juridica &lt;= 14.0</tspan><tspan x="0" y="-15">gini = 0.642</tspan><tspan x="0" y="5">samples = 10916</tspan><tspan x="0" y="25">value = [2347, 3796, 4773]</tspan><tspan x="0" y="45">class = Não Aumentou</tspan></text></g>
<g id="n60" class="nd" transform="translate(2339.3,1330.1)"><rect x="-120.6" y="-55.5" width="241.2" height="111" rx="13" fill="#e9dcfa"/><text><tspan x="0" y="-35">ni &lt;= 336646.5</tspan><tspan x="0" y="-15">gini = 0.62</tspan><tspan x="0" y="5">samples = 3827</tspan><tspan x="0" y="25">value = [647, 1372, 1808]</tspan><tspan x="0" y="45">class = Não Aumentou</tspan></text></g>
<g id="n61" class="nd" transform="translate(2846,1330.1)"><rect x="-115.2" y="-55.5" width="230.4" height="111" rx="13" fill="#d3f9e3"/><text><tspan x="0" y="-35">cnae3 &lt;= 120.5</tspan><tspan x="0" y="-15">gini = 0.59</tspan><tspan x="0" y="5">samples = 2173</tspan><tspan x="0" y="25">value = [801, 1107, 265]</tspan><tspan x="0" y="45">class = Aumentou_500</tspan></text></g>
<g id="n62" class="nd" transform="translate(3095,1330.1)"><rect x="-109.8" y="-45.5" width="219.6" height="91" rx="13" fill="#aff4cc"/><text><tspan x="0" y="-25">gini = 0.523</tspan><tspan x="0" y="-5">samples = 226</tspan><tspan x="0" y="15">value = [75, 136, 15]</tspan><tspan x="0" y="35">class = Aumentou_500</tspan></text></g>
<g id="n63" class="nd" transform="translate(184.7,1488.8)"><rect x="-115.2" y="-55.5" width="230.4" height="111" rx="13" fill="#8ef0b7"/><text><tspan x="0" y="-35">cnae3 &lt;= 199.5</tspan><tspan x="0" y="-15">gini = 0.5</tspan><tspan x="0" y="5">samples = 2077</tspan><tspan x="0" y="25">value = [438, 1377, 262]</tspan><tspan x="0" y="45">class = Aumentou_500</tspan></text></g>
<g id="n64" class="nd" transform="translate(433.8,1488.8)"><rect x="-109.8" y="-45.5" width="219.6" height="91" rx="13" fill="#a6f3c6"/><text><tspan x="0" y="-25">gini = 0.558</tspan><tspan x="0" y="-5">samples = 288</tspan><tspan x="0" y="15">value = [75, 171, 42]</tspan><tspan x="0" y="35">class = Aumentou_500</tspan></text></g>
<g id="n65" class="nd" transform="translate(679.3,1488.8)"><rect x="-109.8" y="-45.5" width="219.6" height="91" rx="13" fill="#c7f8dc"/><text><tspan x="0" y="-25">gini = 0.615</tspan><tspan x="0" y="-5">samples = 119</tspan><tspan x="0" y="15">value = [37, 60, 22]</tspan><tspan x="0" y="35">class = Aumentou_500</tspan></text></g>
<g id="n66" class="nd" transform="translate(928.4,1488.8)"><rect x="-115.2" y="-55.5" width="230.4" height="111" rx="13" fill="#9ff2c2"/><text><tspan x="0" y="-35">cnae3 &lt;= 125.5</tspan><tspan x="0" y="-15">gini = 0.545</tspan><tspan x="0" y="5">samples = 2923</tspan><tspan x="0" y="25">value = [719, 1787, 417]</tspan><tspan x="0" y="45">class = Aumentou_500</tspan></text></g>
<g id="n67" class="nd" transform="translate(1564.6,1488.8)"><rect x="-120.6" y="-55.5" width="241.2" height="111" rx="13" fill="#eadefb"/><text><tspan x="0" y="-35">cnae3 &lt;= 216.0</tspan><tspan x="0" y="-15">gini = 0.625</tspan><tspan x="0" y="5">samples = 5319</tspan><tspan x="0" y="25">value = [950, 1904, 2465]</tspan><tspan x="0" y="45">class = Não Aumentou</tspan></text></g>
<g id="n68" class="nd" transform="translate(1952.5,1488.8)"><rect x="-126" y="-55.5" width="252" height="111" rx="13" fill="#f1e9fc"/><text><tspan x="0" y="-35">ni &lt;= 344426.5</tspan><tspan x="0" y="-15">gini = 0.653</tspan><tspan x="0" y="5">samples = 5597</tspan><tspan x="0" y="25">value = [1397, 1892, 2308]</tspan><tspan x="0" y="45">class = Não Aumentou</tspan></text></g>
<g id="n69" class="nd" transform="translate(2339.3,1488.8)"><rect x="-120.6" y="-55.5" width="241.2" height="111" rx="13" fill="#ece1fb"/><text><tspan x="0" y="-35">ni &lt;= 328376.5</tspan><tspan x="0" y="-15">gini = 0.615</tspan><tspan x="0" y="5">samples = 2855</tspan><tspan x="0" y="25">value = [446, 1069, 1340]</tspan><tspan x="0" y="45">class = Não Aumentou</tspan></text></g>
<g id="n70" class="nd" transform="translate(2593.7,1488.8)"><rect x="-109.8" y="-45.5" width="219.6" height="91" rx="13" fill="#e0cef9"/><text><tspan x="0" y="-25">gini = 0.628</tspan><tspan x="0" y="-5">samples = 972</tspan><tspan x="0" y="15">value = [201, 303, 468]</tspan><tspan x="0" y="35">class = Não Aumentou</tspan></text></g>
<g id="n71" class="nd" transform="translate(2845.7,1488.8)"><rect x="-109.8" y="-45.5" width="219.6" height="91" rx="13" fill="#c4f7d9"/><text><tspan x="0" y="-25">gini = 0.584</tspan><tspan x="0" y="-5">samples = 785</tspan><tspan x="0" y="15">value = [265, 420, 100]</tspan><tspan x="0" y="35">class = Aumentou_500</tspan></text></g>
<g id="n72" class="nd" transform="translate(3090,1488.8)"><rect x="-109.8" y="-45.5" width="219.6" height="91" rx="13" fill="#dcfae9"/><text><tspan x="0" y="-25">gini = 0.592</tspan><tspan x="0" y="-5">samples = 1388</tspan><tspan x="0" y="15">value = [536, 687, 165]</tspan><tspan x="0" y="35">class = Aumentou_500</tspan></text></g>
<g id="n73" class="nd" transform="translate(184.7,1647.5)"><rect x="-115.2" y="-45.5" width="230.4" height="91" rx="13" fill="#91f1b9"/><text><tspan x="0" y="-25">gini = 0.509</tspan><tspan x="0" y="-5">samples = 1857</tspan><tspan x="0" y="15">value = [408, 1213, 236]</tspan><tspan x="0" y="35">class = Aumentou_500</tspan></text></g>
<g id="n74" class="nd" transform="translate(433.8,1647.5)"><rect x="-109.8" y="-45.5" width="219.6" height="91" rx="13" fill="#73eda6"/><text><tspan x="0" y="-25">gini = 0.412</tspan><tspan x="0" y="-5">samples = 220</tspan><tspan x="0" y="15">value = [30, 164, 26]</tspan><tspan x="0" y="35">class = Aumentou_500</tspan></text></g>
<g id="n75" class="nd" transform="translate(680.5,1647.5)"><rect x="-109.8" y="-45.5" width="219.6" height="91" rx="13" fill="#98f1be"/><text><tspan x="0" y="-25">gini = 0.512</tspan><tspan x="0" y="-5">samples = 826</tspan><tspan x="0" y="15">value = [211, 530, 85]</tspan><tspan x="0" y="35">class = Aumentou_500</tspan></text></g>
<g id="n76" class="nd" transform="translate(929.6,1647.5)"><rect x="-115.2" y="-55.5" width="230.4" height="111" rx="13" fill="#a2f3c4"/><text><tspan x="0" y="-35">nat_juridica &lt;= 14.0</tspan><tspan x="0" y="-15">gini = 0.557</tspan><tspan x="0" y="5">samples = 2097</tspan><tspan x="0" y="25">value = [508, 1257, 332]</tspan><tspan x="0" y="45">class = Aumentou_500</tspan></text></g>
<g id="n77" class="nd" transform="translate(1310.5,1647.5)"><rect x="-120.6" y="-55.5" width="241.2" height="111" rx="13" fill="#ece1fb"/><text><tspan x="0" y="-35">ni &lt;= 52450.5</tspan><tspan x="0" y="-15">gini = 0.624</tspan><tspan x="0" y="5">samples = 4618</tspan><tspan x="0" y="25">value = [798, 1692, 2128]</tspan><tspan x="0" y="45">class = Não Aumentou</tspan></text></g>
<g id="n78" class="nd" transform="translate(1564.6,1647.5)"><rect x="-109.8" y="-45.5" width="219.6" height="91" rx="13" fill="#dfccf8"/><text><tspan x="0" y="-25">gini = 0.63</tspan><tspan x="0" y="-5">samples = 701</tspan><tspan x="0" y="15">value = [152, 212, 337]</tspan><tspan x="0" y="35">class = Não Aumentou</tspan></text></g>
<g id="n79" class="nd" transform="translate(1824.5,1647.5)"><rect x="-126" y="-55.5" width="252" height="111" rx="13" fill="#f4eefd"/><text><tspan x="0" y="-35">ni &lt;= 67054.0</tspan><tspan x="0" y="-15">gini = 0.655</tspan><tspan x="0" y="5">samples = 4679</tspan><tspan x="0" y="25">value = [1175, 1625, 1879]</tspan><tspan x="0" y="45">class = Não Aumentou</tspan></text></g>
<g id="n80" class="nd" transform="translate(2084.6,1647.5)"><rect x="-109.8" y="-45.5" width="219.6" height="91" rx="13" fill="#e0cef8"/><text><tspan x="0" y="-25">gini = 0.639</tspan><tspan x="0" y="-5">samples = 918</tspan><tspan x="0" y="15">value = [222, 267, 429]</tspan><tspan x="0" y="35">class = Não Aumentou</tspan></text></g>
<g id="n81" class="nd" transform="translate(2339.3,1647.5)"><rect x="-120.6" y="-55.5" width="241.2" height="111" rx="13" fill="#ede3fb"/><text><tspan x="0" y="-35">ni &lt;= 246092.0</tspan><tspan x="0" y="-15">gini = 0.618</tspan><tspan x="0" y="5">samples = 2706</tspan><tspan x="0" y="25">value = [432, 1018, 1256]</tspan><tspan x="0" y="45">class = Não Aumentou</tspan></text></g>
<g id="n82" class="nd" transform="translate(2592.5,1647.5)"><rect x="-108.7" y="-45.5" width="217.4" height="91" rx="13" fill="#d5bcf6"/><text><tspan x="0" y="-25">gini = 0.556</tspan><tspan x="0" y="-5">samples = 149</tspan><tspan x="0" y="15">value = [14, 51, 84]</tspan><tspan x="0" y="35">class = Não Aumentou</tspan></text></g>
<g id="n83" class="nd" transform="translate(747,1806.2)"><rect x="-109.8" y="-45.5" width="219.6" height="91" rx="13" fill="#a6f3c6"/><text><tspan x="0" y="-25">gini = 0.573</tspan><tspan x="0" y="-5">samples = 1293</tspan><tspan x="0" y="15">value = [308, 752, 233]</tspan><tspan x="0" y="35">class = Aumentou_500</tspan></text></g>
<g id="n84" class="nd" transform="translate(991.3,1806.2)"><rect x="-109.8" y="-45.5" width="219.6" height="91" rx="13" fill="#9bf2bf"/><text><tspan x="0" y="-25">gini = 0.528</tspan><tspan x="0" y="-5">samples = 804</tspan><tspan x="0" y="15">value = [200, 505, 99]</tspan><tspan x="0" y="35">class = Aumentou_500</tspan></text></g>
<g id="n85" class="nd" transform="translate(1241.2,1806.2)"><rect x="-108.7" y="-45.5" width="217.4" height="91" rx="13" fill="#cbaef4"/><text><tspan x="0" y="-25">gini = 0.55</tspan><tspan x="0" y="-5">samples = 102</tspan><tspan x="0" y="15">value = [11, 31, 60]</tspan><tspan x="0" y="35">class = Não Aumentou</tspan></text></g>
<g id="n86" class="nd" transform="translate(1495.4,1806.2)"><rect x="-120.6" y="-55.5" width="241.2" height="111" rx="13" fill="#ede3fb"/><text><tspan x="0" y="-35">ni &lt;= 58106.0</tspan><tspan x="0" y="-15">gini = 0.625</tspan><tspan x="0" y="5">samples = 4516</tspan><tspan x="0" y="25">value = [787, 1661, 2068]</tspan><tspan x="0" y="45">class = Não Aumentou</tspan></text></g>
<g id="n87" class="nd" transform="translate(1755.3,1806.2)"><rect x="-109.8" y="-45.5" width="219.6" height="91" rx="13" fill="#decbf8"/><text><tspan x="0" y="-25">gini = 0.641</tspan><tspan x="0" y="-5">samples = 403</tspan><tspan x="0" y="15">value = [106, 110, 187]</tspan><tspan x="0" y="35">class = Não Aumentou</tspan></text></g>
<g id="n88" class="nd" transform="translate(2015,1806.2)"><rect x="-126" y="-55.5" width="252" height="111" rx="13" fill="#f7f2fd"/><text><tspan x="0" y="-35">ni &lt;= 85988.5</tspan><tspan x="0" y="-15">gini = 0.655</tspan><tspan x="0" y="5">samples = 4276</tspan><tspan x="0" y="25">value = [1069, 1515, 1692]</tspan><tspan x="0" y="45">class = Não Aumentou</tspan></text></g>
<g id="n89" class="nd" transform="translate(2278,1806.2)"><rect x="-109.8" y="-45.5" width="219.6" height="91" rx="13" fill="#e8dafa"/><text><tspan x="0" y="-25">gini = 0.607</tspan><tspan x="0" y="-5">samples = 1516</tspan><tspan x="0" y="15">value = [220, 559, 737]</tspan><tspan x="0" y="35">class = Não Aumentou</tspan></text></g>
<g id="n90" class="nd" transform="translate(2521,1806.2)"><rect x="-109.8" y="-45.5" width="219.6" height="91" rx="13" fill="#f5effd"/><text><tspan x="0" y="-25">gini = 0.629</tspan><tspan x="0" y="-5">samples = 1190</tspan><tspan x="0" y="15">value = [212, 459, 519]</tspan><tspan x="0" y="35">class = Não Aumentou</tspan></text></g>
<g id="n91" class="nd" transform="translate(1369.7,1964.9)"><rect x="-109.8" y="-45.5" width="219.6" height="91" rx="13" fill="#dafae7"/><text><tspan x="0" y="-25">gini = 0.639</tspan><tspan x="0" y="-5">samples = 174</tspan><tspan x="0" y="15">value = [38, 79, 57]</tspan><tspan x="0" y="35">class = Aumentou_500</tspan></text></g>
<g id="n92" class="nd" transform="translate(1624.3,1964.9)"><rect x="-120.6" y="-55.5" width="241.2" height="111" rx="13" fill="#ebe0fb"/><text><tspan x="0" y="-35">ni &lt;= 66847.0</tspan><tspan x="0" y="-15">gini = 0.623</tspan><tspan x="0" y="5">samples = 4342</tspan><tspan x="0" y="25">value = [749, 1582, 2011]</tspan><tspan x="0" y="45">class = Não Aumentou</tspan></text></g>
<g id="n93" class="nd" transform="translate(1881.7,1964.9)"><rect x="-109.8" y="-45.5" width="219.6" height="91" rx="13" fill="#dbfae8"/><text><tspan x="0" y="-25">gini = 0.651</tspan><tspan x="0" y="-5">samples = 236</tspan><tspan x="0" y="15">value = [62, 102, 72]</tspan><tspan x="0" y="35">class = Aumentou_500</tspan></text></g>
<g id="n94" class="nd" transform="translate(2142.3,1964.9)"><rect x="-126" y="-55.5" width="252" height="111" rx="13" fill="#f5effd"/><text><tspan x="0" y="-35">ni &lt;= 338584.0</tspan><tspan x="0" y="-15">gini = 0.655</tspan><tspan x="0" y="5">samples = 4040</tspan><tspan x="0" y="25">value = [1007, 1413, 1620]</tspan><tspan x="0" y="45">class = Não Aumentou</tspan></text></g>
<g id="n95" class="nd" transform="translate(1387.9,2123.6)"><rect x="-108.7" y="-45.5" width="217.4" height="91" rx="13" fill="#d3baf6"/><text><tspan x="0" y="-25">gini = 0.551</tspan><tspan x="0" y="-5">samples = 100</tspan><tspan x="0" y="15">value = [9, 34, 57]</tspan><tspan x="0" y="35">class = Não Aumentou</tspan></text></g>
<g id="n96" class="nd" transform="translate(1641.7,2123.6)"><rect x="-120.6" y="-55.5" width="241.2" height="111" rx="13" fill="#ece1fb"/><text><tspan x="0" y="-35">ni &lt;= 86615.5</tspan><tspan x="0" y="-15">gini = 0.624</tspan><tspan x="0" y="5">samples = 4242</tspan><tspan x="0" y="25">value = [740, 1548, 1954]</tspan><tspan x="0" y="45">class = Não Aumentou</tspan></text></g>
<g id="n97" class="nd" transform="translate(2107.1,2123.6)"><rect x="-120.6" y="-55.5" width="241.2" height="111" rx="13" fill="#f4eefd"/><text><tspan x="0" y="-35">ni &lt;= 331277.0</tspan><tspan x="0" y="-15">gini = 0.655</tspan><tspan x="0" y="5">samples = 3924</tspan><tspan x="0" y="25">value = [987, 1357, 1580]</tspan><tspan x="0" y="45">class = Não Aumentou</tspan></text></g>
<g id="n98" class="nd" transform="translate(2361.8,2123.6)"><rect x="-109.8" y="-45.5" width="219.6" height="91" rx="13" fill="#d5f9e4"/><text><tspan x="0" y="-25">gini = 0.618</tspan><tspan x="0" y="-5">samples = 116</tspan><tspan x="0" y="15">value = [20, 56, 40]</tspan><tspan x="0" y="35">class = Aumentou_500</tspan></text></g>
<g id="n99" class="nd" transform="translate(1455.5,2282.3)"><rect x="-109.8" y="-45.5" width="219.6" height="91" rx="13" fill="#e8fcf0"/><text><tspan x="0" y="-25">gini = 0.635</tspan><tspan x="0" y="-5">samples = 200</tspan><tspan x="0" y="15">value = [39, 88, 73]</tspan><tspan x="0" y="35">class = Aumentou_500</tspan></text></g>
<g id="n100" class="nd" transform="translate(1709.7,2282.3)"><rect x="-120.6" y="-55.5" width="241.2" height="111" rx="13" fill="#eadffb"/><text><tspan x="0" y="-35">ni &lt;= 343028.5</tspan><tspan x="0" y="-15">gini = 0.623</tspan><tspan x="0" y="5">samples = 4042</tspan><tspan x="0" y="25">value = [701, 1460, 1881]</tspan><tspan x="0" y="45">class = Não Aumentou</tspan></text></g>
<g id="n101" class="nd" transform="translate(2089.7,2282.3)"><rect x="-120.6" y="-55.5" width="241.2" height="111" rx="13" fill="#f5f0fd"/><text><tspan x="0" y="-35">cnae3 &lt;= 136.5</tspan><tspan x="0" y="-15">gini = 0.655</tspan><tspan x="0" y="5">samples = 3812</tspan><tspan x="0" y="25">value = [953, 1334, 1525]</tspan><tspan x="0" y="45">class = Não Aumentou</tspan></text></g>
<g id="n102" class="nd" transform="translate(2343.2,2282.3)"><rect x="-108.7" y="-45.5" width="217.4" height="91" rx="13" fill="#ddcaf8"/><text><tspan x="0" y="-25">gini = 0.625</tspan><tspan x="0" y="-5">samples = 112</tspan><tspan x="0" y="15">value = [34, 23, 55]</tspan><tspan x="0" y="35">class = Não Aumentou</tspan></text></g>
<g id="n103" class="nd" transform="translate(1518,2441)"><rect x="-120.6" y="-55.5" width="241.2" height="111" rx="13" fill="#ede2fb"/><text><tspan x="0" y="-35">cnae3 &lt;= 137.5</tspan><tspan x="0" y="-15">gini = 0.627</tspan><tspan x="0" y="5">samples = 3184</tspan><tspan x="0" y="25">value = [569, 1160, 1455]</tspan><tspan x="0" y="45">class = Não Aumentou</tspan></text></g>
<g id="n104" class="nd" transform="translate(1772.2,2441)"><rect x="-109.8" y="-45.5" width="219.6" height="91" rx="13" fill="#e2d2f9"/><text><tspan x="0" y="-25">gini = 0.608</tspan><tspan x="0" y="-5">samples = 858</tspan><tspan x="0" y="15">value = [132, 300, 426]</tspan><tspan x="0" y="35">class = Não Aumentou</tspan></text></g>
<g id="n105" class="nd" transform="translate(2025.7,2441)"><rect x="-109.8" y="-45.5" width="219.6" height="91" rx="13" fill="#f3edfd"/><text><tspan x="0" y="-25">gini = 0.648</tspan><tspan x="0" y="-5">samples = 1947</tspan><tspan x="0" y="15">value = [444, 694, 809]</tspan><tspan x="0" y="35">class = Não Aumentou</tspan></text></g>
<g id="n106" class="nd" transform="translate(2268.4,2441)"><rect x="-109.8" y="-45.5" width="219.6" height="91" rx="13" fill="#f7f3fd"/><text><tspan x="0" y="-25">gini = 0.66</tspan><tspan x="0" y="-5">samples = 1865</tspan><tspan x="0" y="15">value = [509, 640, 716]</tspan><tspan x="0" y="35">class = Não Aumentou</tspan></text></g>
<g id="n107" class="nd" transform="translate(1397,2589.7)"><rect x="-109.8" y="-45.5" width="219.6" height="91" rx="13" fill="#f2eafc"/><text><tspan x="0" y="-25">gini = 0.632</tspan><tspan x="0" y="-5">samples = 1571</tspan><tspan x="0" y="15">value = [292, 587, 692]</tspan><tspan x="0" y="35">class = Não Aumentou</tspan></text></g>
<g id="n108" class="nd" transform="translate(1639,2589.7)"><rect x="-109.8" y="-45.5" width="219.6" height="91" rx="13" fill="#e8dbfa"/><text><tspan x="0" y="-25">gini = 0.621</tspan><tspan x="0" y="-5">samples = 1613</tspan><tspan x="0" y="15">value = [277, 573, 763]</tspan><tspan x="0" y="35">class = Não Aumentou</tspan></text></g>
</svg>
